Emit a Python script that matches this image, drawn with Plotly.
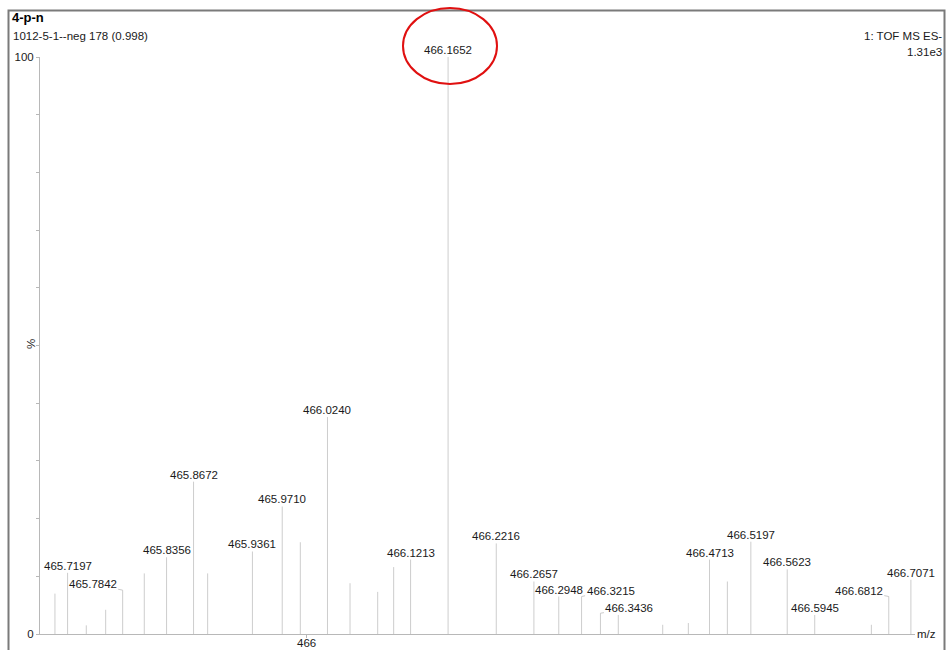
import plotly.graph_objects as go

# Centroided peaks: m/z and relative intensity (%)
mz = [465.7049, 465.7197, 465.7416, 465.7643, 465.7842, 465.8095, 465.8356,
      465.8672, 465.8837, 465.9361, 465.9710, 465.9922, 466.0240, 466.0504,
      466.0828, 466.1015, 466.1213, 466.1652, 466.2216, 466.2657, 466.2948,
      466.3215, 466.3436, 466.3645, 466.4165, 466.4465, 466.4713, 466.4922,
      466.5197, 466.5623, 466.5945, 466.6608, 466.6812, 466.7071]
intensity = [7.0, 10.6, 1.5, 4.2, 7.6, 10.5, 13.3,
             26.4, 10.5, 14.3, 22.1, 15.9, 37.6, 8.8,
             7.3, 11.6, 12.9, 100.0, 15.7, 9.1, 6.5,
             6.5, 3.6, 3.3, 1.6, 1.9, 12.9, 9.1,
             16.0, 11.2, 3.3, 1.6, 6.5, 9.4]

# Peaks carrying an m/z label; some labels are pushed sideways with a leader line
labeled = [465.7197, 465.7842, 465.8356, 465.8672, 465.9361, 465.9710, 466.0240,
           466.1213, 466.1652, 466.2216, 466.2657, 466.2948, 466.3215, 466.3436,
           466.4713, 466.5197, 466.5623, 466.5945, 466.6812, 466.7071]
label_offsets = {465.7842: (-30, -6), 466.3215: (29, -6),
                 466.3436: (29, -5), 466.6812: (-30, -6)}

title = "4-p-n"
subtitle = "1012-5-1--neg 178 (0.998)"
instrument = "1: TOF MS ES-"
base_peak = "1.31e3"
x_range = [465.6874, 466.7119]
y_range = [0, 100]
x_ticks = [466]

W, H = 951, 650
L, R, T, B = 40, 36, 57, 16
FONT = "Liberation Sans, Arial, sans-serif"
TXT = "#1a1a1a"


def px(x):
    return (x - L) / (W - L - R)


def py(y):
    return (H - B - y) / (H - T - B)


# Stick spectrum built as vertical segments
xs, ys = [], []
for m, h in zip(mz, intensity):
    xs += [m, m, None]
    ys += [0, h, None]

fig = go.Figure(go.Scatter(x=xs, y=ys, mode="lines",
                           line=dict(color="#cdcdcd", width=1),
                           hoverinfo="skip", showlegend=False))

annotations = []
for m in labeled:
    h = intensity[mz.index(m)]
    text = f"{m:.4f}"
    if m in label_offsets:
        ax, ay = label_offsets[m]
        annotations.append(dict(x=m, y=h, text=text, showarrow=True, arrowhead=0,
                                arrowwidth=0.8, arrowcolor="#bdbdbd", ax=ax, ay=ay,
                                standoff=0, font=dict(family=FONT, size=11.5, color=TXT)))
    else:
        annotations.append(dict(x=m, y=h, text=text, showarrow=False,
                                yanchor="middle", yshift=7,
                                font=dict(family=FONT, size=11.5, color=TXT)))

# x tick labels set tight against the bottom edge
for t in x_ticks:
    annotations.append(dict(x=t, xref="x", yref="paper", y=py(643), text=f"{t:g}",
                            showarrow=False, xanchor="center", yanchor="middle",
                            font=dict(family=FONT, size=11.5, color=TXT)))

# Header and axis captions
annotations += [
    dict(xref="paper", yref="paper", x=px(10), y=py(18), text=f"<b>{title}</b>",
         xanchor="left", yanchor="middle", showarrow=False,
         font=dict(family=FONT, size=13, color="#000")),
    dict(xref="paper", yref="paper", x=px(11), y=py(36), text=subtitle,
         xanchor="left", yanchor="middle", showarrow=False,
         font=dict(family=FONT, size=11.5, color=TXT)),
    dict(xref="paper", yref="paper", x=px(944), y=py(36), text=instrument,
         xanchor="right", yanchor="middle", showarrow=False,
         font=dict(family=FONT, size=11.5, color=TXT)),
    dict(xref="paper", yref="paper", x=px(944), y=py(52), text=base_peak,
         xanchor="right", yanchor="middle", showarrow=False,
         font=dict(family=FONT, size=11.5, color=TXT)),
    dict(xref="paper", yref="paper", x=px(31), y=py(344), text="%", textangle=-90,
         xanchor="center", yanchor="middle", showarrow=False,
         font=dict(family=FONT, size=11.5, color=TXT)),
    dict(xref="paper", yref="paper", x=px(926), y=py(634), text="m/z",
         xanchor="center", yanchor="middle", showarrow=False,
         font=dict(family=FONT, size=11.5, color=TXT)),
]

shapes = [
    # outer frame
    dict(type="rect", xref="paper", yref="paper", x0=px(8.5), x1=px(944.5),
         y0=py(665), y1=py(10.5), line=dict(color="#7a7a7a", width=2)),
    # highlight around the base peak label
    dict(type="circle", xref="paper", yref="paper", x0=px(403), x1=px(497),
         y0=py(84), y1=py(8), line=dict(color="#e01010", width=2)),
]

fig.update_layout(
    width=W, height=H,
    margin=dict(l=L, r=R, t=T, b=B, autoexpand=False),
    paper_bgcolor="white", plot_bgcolor="white",
    font=dict(family=FONT, size=11.5, color=TXT),
    annotations=annotations, shapes=shapes,
    xaxis=dict(range=x_range, showgrid=False, zeroline=False, showline=True,
               automargin=False,
               linecolor="#b8b8b8", linewidth=1, ticks="outside", ticklen=3,
               tickcolor="#b8b8b8", tickvals=x_ticks, showticklabels=False),
    yaxis=dict(range=y_range, showgrid=False, zeroline=False, showline=True,
               automargin=False,
               linecolor="#b8b8b8", linewidth=1, ticks="outside", ticklen=3,
               tickcolor="#b8b8b8", tickvals=[0, 100], ticktext=["0", "100"],
               tickfont=dict(family=FONT, size=11.5, color=TXT),
               minor=dict(dtick=10, ticks="outside", ticklen=3, tickcolor="#b8b8b8")),
)

fig.write_html("out.html")
